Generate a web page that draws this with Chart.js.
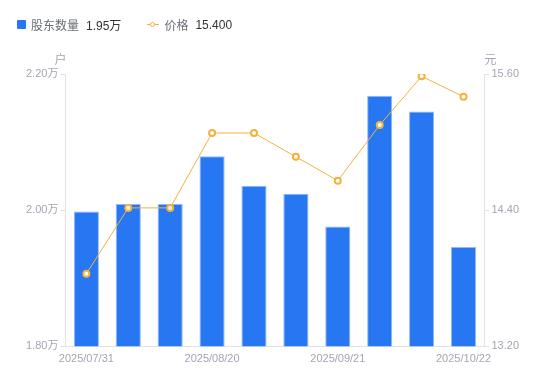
<!DOCTYPE html>
<html>
<head>
<meta charset="utf-8">
<script src="https://cdn.jsdelivr.net/npm/chart.js@4"></script>
<style>
  body { margin: 0; background: #fff; font-family: "Liberation Sans", "Noto Sans CJK SC", sans-serif; }
  #wrap { position: relative; width: 550px; height: 381px; }
  #chart { display: block; }
  #legend { position: absolute; left: 17px; top: 16px; font-size: 12px; display: flex; align-items: center; }
  .item { display: flex; align-items: center; margin-right: 26px; }
  .name { color: #6b6e7a; margin-right: 7px; }
  .val { color: #333; }
  .sq { width: 9px; height: 9px; background: #2677f1; border-radius: 1px; margin-right: 5px; }
  .ln { position: relative; width: 12px; height: 9px; margin-right: 5px; }
  .ln:before { content: ""; position: absolute; left: 0; right: 0; top: 4px; height: 1px; background: #f6b03d; }
  .ln:after { content: ""; position: absolute; left: 3px; top: 1.5px; width: 3px; height: 3px; border: 1.5px solid #f6b03d; border-radius: 50%; background: #fff; }
</style>
</head>
<body>
<div id="wrap">
  <div id="legend"></div>
  <canvas id="chart" width="550" height="381"></canvas>
</div>
<script>
const dates = ["2025/07/31", "2025/08/10", "2025/08/15", "2025/08/20", "2025/08/31", "2025/09/10", "2025/09/21", "2025/09/30", "2025/10/10", "2025/10/22"];
const holders = [19980, 20090, 20090, 20790, 20360, 20240, 19760, 21680, 21450, 19460];
const prices = [13.84, 14.42, 14.42, 15.08, 15.08, 14.87, 14.66, 15.15, 15.58, 15.40];

const leftTicks = [18000, 20000, 22000];
const rightTicks = [13.2, 14.4, 15.6];

const blue = "#2677f1";
const orange = "#f6b03d";
const tickColor = "#a3a6b4";
const axisColor = "#e2e2e6";

document.getElementById("legend").innerHTML =
  '<div class="item"><span class="sq"></span><span class="name">股东数量</span><span class="val">' +
  (holders[holders.length - 1] / 10000).toFixed(2) + '万</span></div>' +
  '<div class="item"><span class="ln"></span><span class="name">价格</span><span class="val">' +
  prices[prices.length - 1].toFixed(3) + '</span></div>';

// unit labels above the two y axes
const unitTitles = {
  id: "unitTitles",
  afterDraw(chart) {
    const ctx = chart.ctx;
    const top = chart.chartArea.top;
    ctx.save();
    ctx.font = "12px 'Noto Sans CJK SC'";
    ctx.fillStyle = tickColor;
    ctx.textBaseline = "bottom";
    ctx.textAlign = "center";
    ctx.fillText("户", chart.scales.y.right - 5, top - 9);
    ctx.fillText("元", chart.scales.y1.left + 6, top - 9);
    ctx.restore();
  }
};

Chart.defaults.font.family = "'Liberation Sans', 'Noto Sans CJK SC', sans-serif";
Chart.defaults.font.size = 11;
Chart.defaults.color = tickColor;

new Chart(document.getElementById("chart"), {
  data: {
    labels: dates,
    datasets: [{
      type: "line",
      label: "价格",
      data: prices,
      yAxisID: "y1",
      borderColor: orange,
      borderWidth: 1,
      pointRadius: 3,
      pointBorderWidth: 2,
      pointBackgroundColor: "#fff",
      pointBorderColor: orange,
      order: 0
    }, {
      type: "bar",
      label: "股东数量",
      data: holders,
      yAxisID: "y",
      backgroundColor: blue,
      borderColor: "#8fbaf8",
      borderWidth: 1,
      barPercentage: 0.6,
      categoryPercentage: 1,
      order: 1
    }]
  },
  options: {
    responsive: false,
    animation: false,
    layout: { padding: { top: 74, left: 24, right: 29, bottom: 9.5 } },
    plugins: { legend: { display: false }, tooltip: { enabled: false } },
    scales: {
      x: {
        grid: { display: false, drawTicks: false },
        border: { color: axisColor },
        ticks: {
          autoSkip: false,
          maxRotation: 0,
          padding: 6,
          callback: function (v, i) { return i % 3 === 0 ? dates[i] : ""; }
        }
      },
      y: {
        position: "left",
        min: 18000,
        max: 22000,
        afterBuildTicks: s => { s.ticks = leftTicks.map(v => ({ value: v })); },
        grid: { drawOnChartArea: false, tickLength: 5, color: axisColor },
        border: { color: axisColor },
        ticks: { padding: 2, callback: v => (v / 10000).toFixed(2) + "万" }
      },
      y1: {
        position: "right",
        min: 13.2,
        max: 15.6,
        afterBuildTicks: s => { s.ticks = rightTicks.map(v => ({ value: v })); },
        grid: { drawOnChartArea: false, tickLength: 5, color: axisColor },
        border: { color: axisColor },
        ticks: { padding: 2, callback: v => v.toFixed(2) }
      }
    }
  },
  plugins: [unitTitles]
});
</script>
</body>
</html>
